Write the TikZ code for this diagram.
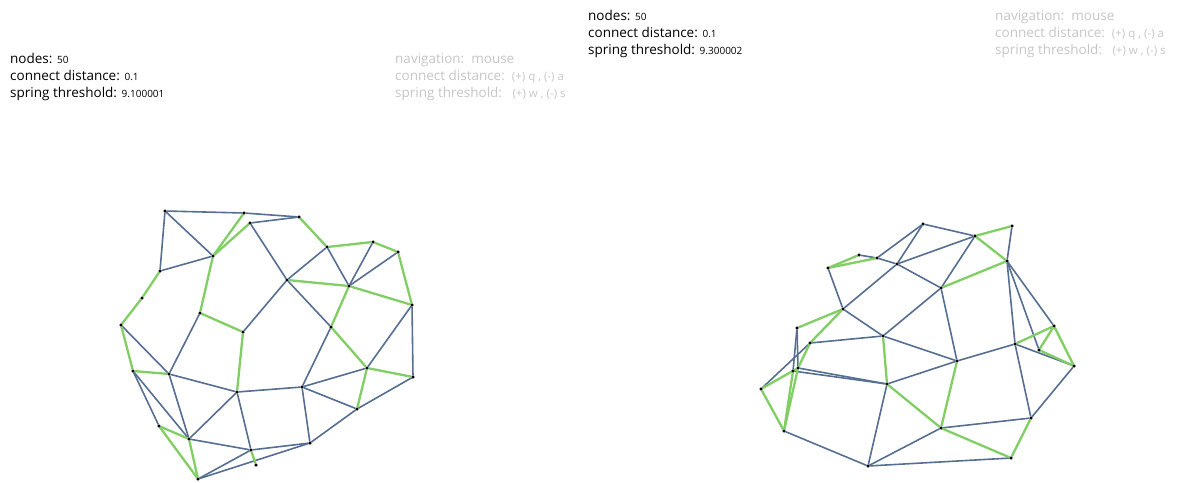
\documentclass[tikz,border=0pt]{standalone}
\usepackage{fontspec}
\setmainfont{Open Sans}
\definecolor{eblue}{RGB}{86,110,146}
\definecolor{egreen}{RGB}{128,206,100}
\definecolor{hint}{RGB}{198,198,198}
\newcommand{\smallnum}[1]{{\fontsize{10}{11}\selectfont #1}}
\newcommand{\hintkeys}[1]{{\fontsize{11.5}{12}\selectfont #1}}
\begin{document}
\begin{tikzpicture}[x=1pt,y=-1pt,
  dot/.style={circle,fill=black,inner sep=0pt,minimum size=3pt},
  bl/.style={draw=eblue,line width=1.6pt},
  gr/.style={draw=egreen,line width=2.3pt},
  lab/.style={anchor=base west,inner sep=0pt,font=\fontsize{13.5}{16}\selectfont},
  hintlab/.style={lab,text=hint}]
\useasboundingbox (0,0) rectangle (1190,482);

% ---------- texts ----------
\node[lab] (la1) at (10,63) {nodes: \smallnum{50}};
\node[lab] (la2) at (10,80) {connect distance: \smallnum{0.1}};
\node[lab] (la3) at (10,97) {spring threshold: \smallnum{9.100001}};
\node[hintlab] (lh1) at (395,63) {navigation:\ \ mouse};
\node[hintlab] (lh2) at (395,80) {connect distance:\ \ \hintkeys{(+) q , (-) a}};
\node[hintlab] (lh3) at (395,97) {spring threshold:\ \ \ \hintkeys{(+) w , (-) s}};

\node[lab] (ra1) at (588,20) {nodes: \smallnum{50}};
\node[lab] (ra2) at (588,37) {connect distance: \smallnum{0.1}};
\node[lab] (ra3) at (588,54) {spring threshold: \smallnum{9.300002}};
\node[hintlab] (rh1) at (995,20) {navigation:\ \ mouse};
\node[hintlab] (rh2) at (995,37) {connect distance:\ \ \hintkeys{(+) q , (-) a}};
\node[hintlab] (rh3) at (995,54) {spring threshold:\ \ \ \hintkeys{(+) w , (-) s}};

% ---------- left graph nodes ----------
\foreach \n/\x/\y in {A/165/211, B/244/213, C/299/217, D/250/223, E/213/256,
  F/160/271, G/142/298, H/121/325, I/200/313, J/243/332, K/287/280,
  L/327/247, M/373/242, N/398/252, O/349/286, P/412/305, Q/331/327,
  R/133/371, S/169/374, T/237/392, U/159/426, V/189/439, W/251/450,
  X/256/465, Y/198/479, AA/302/387, BB/367/368, CC/413/377, DD/357/409,
  EE/310/443}
  \node[dot] (\n) at (\x,\y) {};

% ---------- right graph nodes ----------
\foreach \n/\x/\y in {ra/859/255, rb/828/268, rc/877/258, rd/897/264,
  re/843/309, rf/797/328, rg/883/336, rh/923/224, ri/975/236, rj/1012/226,
  rk/1007/261, rl/941/288, rm/1054/326, rn/1015/344, ro/1039/350,
  rp/1074/366, rq/957/361, rr/1031/418, rs/941/428, rt/1011/458,
  rx/810/343, ry/793/371, rz/798/368, raa/761/389, rbb/887/384,
  rcc/784/431, rdd/868/466}
  \node[dot] (\n) at (\x,\y) {};

% ---------- blue edges ----------
\foreach \u/\v in {A/B, B/C, C/D, A/E, A/F, F/E, D/K, K/J, I/S, H/S, K/L,
  L/O, M/O, N/O, K/Q, Q/AA, BB/P, P/CC, AA/BB, AA/DD, DD/CC, AA/EE, DD/EE,
  T/AA, EE/W, EE/Y, S/T, R/U, R/V, S/V, T/V, V/W, T/W, Y/W,
  ra/rc, rc/rd, rc/rh, rd/rh, rh/ri, ri/rd, rd/rl, ri/rl, rj/rk, rb/re, re/rd,
  re/rg, rg/rl, rg/rq, rx/rg, rf/rz, rf/ry, rx/raa, ry/rbb, rz/rbb, rbb/rq,
  rbb/rdd, rcc/rdd, rdd/rs, rdd/rt, rl/rq, rk/rn, rk/ro, rk/rm, rn/rp,
  rn/rq, rn/rr, rp/rr, rs/rr}
  \draw[bl] (\u) -- (\v);

% ---------- green edges ----------
\foreach \u/\v in {B/E, D/E, F/G, G/H, E/I, I/J, C/L, L/M, M/N, K/O, O/P,
  N/P, O/Q, Q/BB, BB/CC, BB/DD, H/R, R/S, J/T, U/V, U/Y, V/Y, W/X,
  ra/rb, rb/rc, ri/rj, ri/rk, rl/rk, re/rf, re/rx, rx/rz, rz/rcc, ry/rcc,
  raa/rz, raa/rcc, rg/rbb, rbb/rs, rq/rs, rs/rt, rr/rt, rn/rm, ro/rm,
  rm/rp, ro/rp}
  \draw[gr] (\u) -- (\v);

% dots on top
\foreach \n in {A,B,C,D,E,F,G,H,I,J,K,L,M,N,O,P,Q,R,S,T,U,V,W,X,Y,AA,BB,CC,DD,EE,
  ra,rb,rc,rd,re,rf,rg,rh,ri,rj,rk,rl,rm,rn,ro,rp,rq,rr,rs,rt,rx,ry,rz,raa,rbb,rcc,rdd}
  \fill (\n.center) circle (1.6pt);
\end{tikzpicture}
\end{document}
